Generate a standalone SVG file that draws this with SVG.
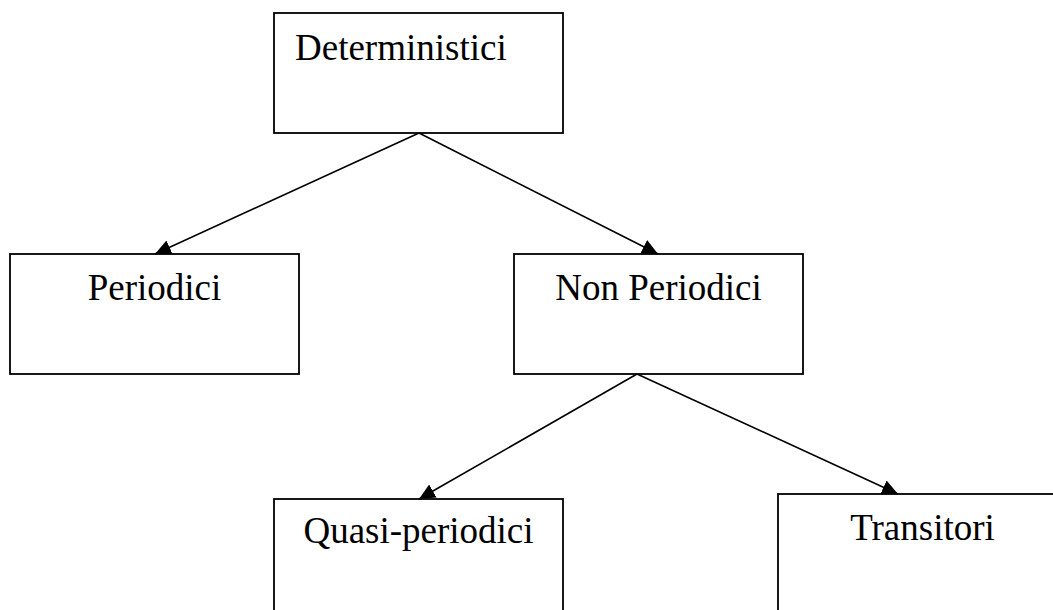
<svg xmlns="http://www.w3.org/2000/svg" width="1053" height="610" viewBox="0 0 1053 610">
  <style>
    .box { fill: #ffffff; stroke: #000000; stroke-width: 1.8; }
    .lbl { font-family: "Liberation Serif", "Times New Roman", serif; font-size: 37px; fill: #000000; }
    .mid { text-anchor: middle; }
    .edge { stroke: #000000; stroke-width: 1.6; fill: none; marker-end: url(#arrow); }
  </style>
  <defs>
    <marker id="arrow" markerUnits="userSpaceOnUse" markerWidth="18" markerHeight="16" refX="16" refY="7.5" orient="auto">
      <path d="M0,0 L16,7.5 L0,15 Z" fill="#000000"/>
    </marker>
  </defs>
  <rect width="1053" height="610" fill="#ffffff"/>

  <g id="n-deterministici">
    <rect class="box" x="274" y="13" width="289" height="120"/>
    <text class="lbl" x="295" y="60">Deterministici</text>
  </g>
  <g id="n-periodici">
    <rect class="box" x="10" y="254" width="289" height="120"/>
    <text class="lbl mid" x="154.5" y="300">Periodici</text>
  </g>
  <g id="n-nonperiodici">
    <rect class="box" x="514" y="254" width="289" height="120"/>
    <text class="lbl mid" x="658.5" y="300">Non Periodici</text>
  </g>
  <g id="n-quasiperiodici">
    <rect class="box" x="274" y="499" width="289" height="130"/>
    <text class="lbl mid" x="418.5" y="543">Quasi-periodici</text>
  </g>
  <g id="n-transitori">
    <rect class="box" x="778" y="494" width="289" height="130"/>
    <text class="lbl mid" x="922.5" y="540">Transitori</text>
  </g>

  <g id="connectors">
    <line class="edge" x1="419" y1="133" x2="155" y2="254"/>
    <line class="edge" x1="419" y1="133" x2="658" y2="254"/>
    <line class="edge" x1="637" y1="374" x2="419" y2="499"/>
    <line class="edge" x1="637" y1="374" x2="898" y2="494"/>
  </g>
</svg>
